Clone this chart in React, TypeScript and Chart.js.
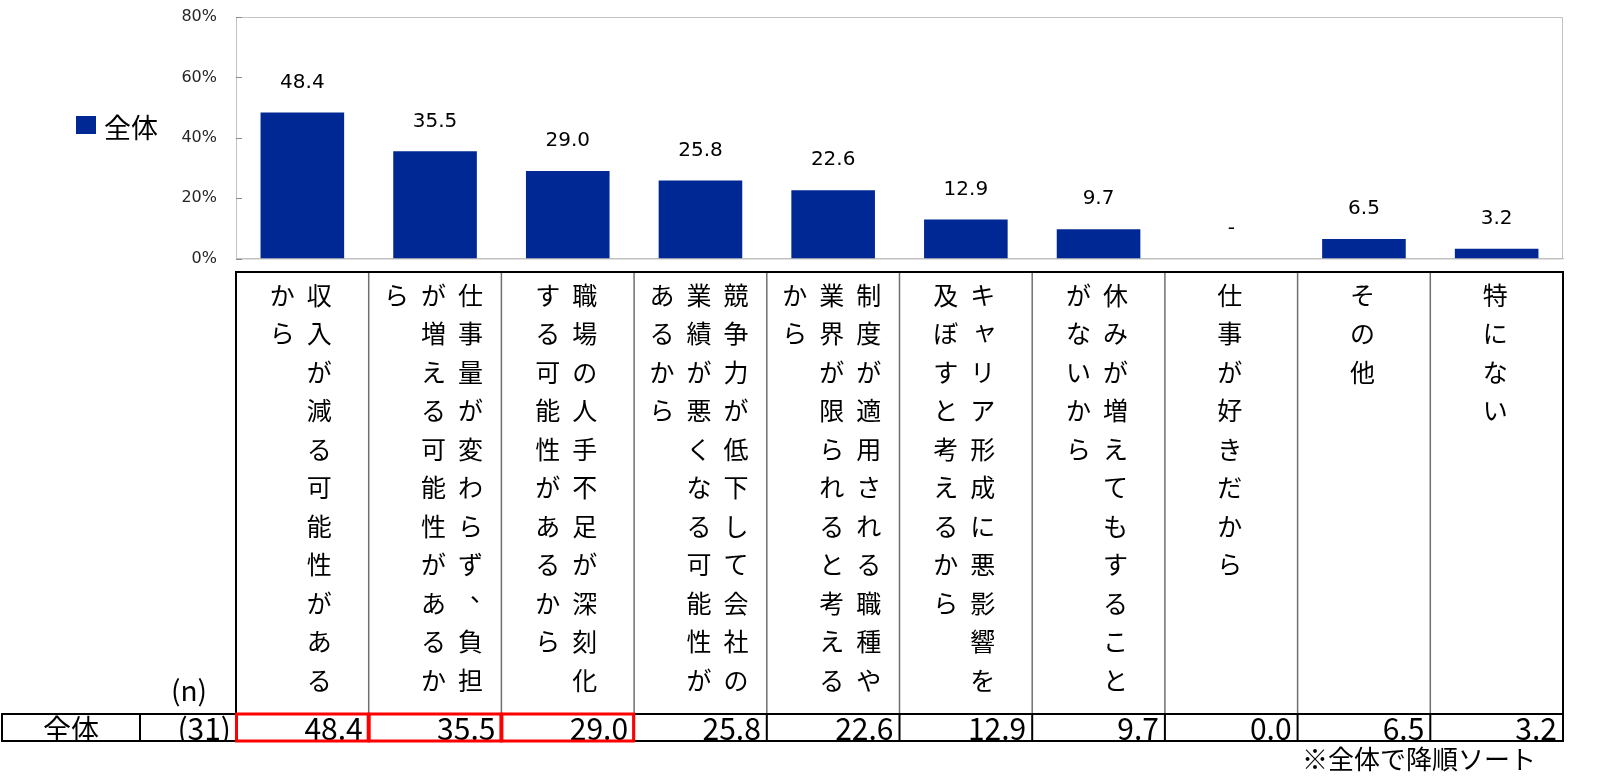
import { useEffect, useRef } from "react"
import { Chart, registerables } from "chart.js"

Chart.register(...registerables)

// survey answers, already sorted by the total (descending)
const categories = [
  "収入が減る可能性があるから",
  "仕事量が変わらず、負担が増える可能性があるから",
  "職場の人手不足が深刻化する可能性があるから",
  "競争力が低下して会社の業績が悪くなる可能性があるから",
  "制度が適用される職種や業界が限られると考えるから",
  "キャリア形成に悪影響を及ぼすと考えるから",
  "休みが増えてもすることがないから",
  "仕事が好きだから",
  "その他",
  "特にない",
]
const seriesName = "全体"
const totalValues = [48.4, 35.5, 29.0, 25.8, 22.6, 12.9, 9.7, 0.0, 6.5, 3.2]
const sampleSize = 31
const highlighted = [0, 1, 2]
const yMax = 80
const yStep = 20
const footnote = "※全体で降順ソート"

const BAR = "#002894"
const JP = '"Noto Sans CJK JP", sans-serif'
const NUM = '"DejaVu Sans", Verdana, sans-serif'

// table layout (pixels)
const TABLE_TOP = 272
const ROW_TOP = 714
const ROW_BOTTOM = 741
const ROW_LEFT = 2
const NAME_RIGHT = 140
const FIRST_ROW = 295
const ROW_STEP = 38.5
const COL_STEP = 37
const CHARS_PER_COL = 11

function drawVertical(ctx: CanvasRenderingContext2D, text: string, cx: number) {
  const chars = Array.from(text)
  const cols: string[][] = []
  for (let i = 0; i < chars.length; i += CHARS_PER_COL) cols.push(chars.slice(i, i + CHARS_PER_COL))
  const n = cols.length
  cols.forEach((col, k) => {
    const x = cx + ((n - 1) / 2 - k) * COL_STEP
    col.forEach((ch, j) => {
      const y = FIRST_ROW + j * ROW_STEP
      let dx = 0
      let dy = 0
      if (ch === "、") {
        dx = 12
        dy = -12
      } else if (ch === "ャ") {
        dx = 2
        dy = -3
      }
      ctx.fillText(ch, x + dx, y + dy)
    })
  })
}

const tablePlugin = {
  id: "surveyTable",
  beforeDatasetsDraw(chart: Chart) {
    const { ctx, chartArea: a } = chart
    const y = chart.scales.y
    ctx.save()
    ctx.strokeStyle = "#C3C3C3"
    ctx.lineWidth = 1
    ctx.strokeRect(a.left + 0.5, a.top + 0.5, a.right - a.left - 1, a.bottom - a.top)
    // small tick marks inside the plot
    ctx.strokeStyle = "#8C8C8C"
    y.ticks.forEach((t) => {
      const py = Math.round(y.getPixelForValue(t.value)) + 0.5
      ctx.beginPath()
      ctx.moveTo(a.left, py)
      ctx.lineTo(a.left + 6, py)
      ctx.stroke()
    })
    ctx.restore()
  },
  afterDatasetsDraw(chart: Chart) {
    const { ctx } = chart
    const meta = chart.getDatasetMeta(0)
    ctx.save()
    ctx.font = `20px ${NUM}`
    ctx.fillStyle = "#000"
    ctx.textAlign = "center"
    ctx.textBaseline = "middle"
    meta.data.forEach((bar: any, i: number) => {
      const v = totalValues[i]
      ctx.fillText(v === 0 ? "-" : v.toFixed(1), bar.x, bar.y - 30)
    })
    ctx.restore()
  },
  afterDraw(chart: Chart) {
    const { ctx } = chart
    const x = chart.scales.x
    const w = (x.right - x.left) / categories.length
    const left = x.getPixelForValue(0) - w / 2
    const right = x.getPixelForValue(categories.length - 1) + w / 2

    ctx.save()

    // legend
    ctx.fillStyle = BAR
    ctx.fillRect(76, 116, 20, 18)
    ctx.fillStyle = "#000"
    ctx.font = `27px ${JP}`
    ctx.textAlign = "left"
    ctx.textBaseline = "middle"
    ctx.fillText(seriesName, 104, 128)

    // header texts
    ctx.font = `25px ${JP}`
    ctx.textAlign = "center"
    ctx.textBaseline = "middle"
    categories.forEach((c, i) => drawVertical(ctx, c, x.getPixelForValue(i) - 1.5))

    ctx.font = `28px ${JP}`
    ctx.fillText("(n)", 189, 690)

    // bottom row values
    ctx.textBaseline = "alphabetic"
    ctx.save()
    ctx.beginPath()
    ctx.rect(ROW_LEFT, ROW_TOP, right - ROW_LEFT, ROW_BOTTOM - ROW_TOP)
    ctx.clip()
    ctx.font = `28px ${JP}`
    ctx.textAlign = "center"
    ctx.fillText(seriesName, (ROW_LEFT + NAME_RIGHT) / 2, 740)
    ctx.font = `30px ${JP}`
    ctx.textAlign = "right"
    ctx.fillText(`(${sampleSize})`, left - 5, 740)
    totalValues.forEach((v, i) => {
      ctx.fillText(v.toFixed(1), x.getPixelForValue(i) + w / 2 - 6, 740)
    })
    ctx.restore()

    // inner header separators
    ctx.strokeStyle = "#6F6F6F"
    ctx.lineWidth = 1.5
    for (let i = 1; i < categories.length; i++) {
      const px = left + i * w
      ctx.beginPath()
      ctx.moveTo(px, TABLE_TOP)
      ctx.lineTo(px, ROW_TOP)
      ctx.stroke()
    }

    // black grid of the table
    ctx.strokeStyle = "#000"
    ctx.lineWidth = 2
    const line = (x1: number, y1: number, x2: number, y2: number) => {
      ctx.beginPath()
      ctx.moveTo(x1, y1)
      ctx.lineTo(x2, y2)
      ctx.stroke()
    }
    line(left - 1, TABLE_TOP, right + 1, TABLE_TOP)
    line(left, TABLE_TOP, left, ROW_BOTTOM)
    line(right, TABLE_TOP, right, ROW_BOTTOM)
    line(ROW_LEFT - 1, ROW_TOP, right + 1, ROW_TOP)
    line(ROW_LEFT - 1, ROW_BOTTOM, right + 1, ROW_BOTTOM)
    line(ROW_LEFT, ROW_TOP, ROW_LEFT, ROW_BOTTOM)
    line(NAME_RIGHT, ROW_TOP, NAME_RIGHT, ROW_BOTTOM)
    for (let i = 1; i < categories.length; i++) {
      line(left + i * w, ROW_TOP, left + i * w, ROW_BOTTOM)
    }

    // highlighted cells
    ctx.strokeStyle = "#FF0000"
    ctx.lineWidth = 3
    highlighted.forEach((i) => {
      ctx.strokeRect(left + i * w + 0.5, ROW_TOP, w - 1, ROW_BOTTOM - ROW_TOP)
    })

    // footnote
    ctx.fillStyle = "#000"
    ctx.font = `26px ${JP}`
    ctx.textAlign = "right"
    ctx.textBaseline = "middle"
    ctx.fillText(footnote, 1536, 759)

    ctx.restore()
  },
}

export default function App() {
  const chartRef = useRef<HTMLCanvasElement>(null)
  const chartInstance = useRef<Chart | null>(null)

  useEffect(() => {
    if (!chartRef.current) return
    if (chartInstance.current) chartInstance.current.destroy()
    const ctx = chartRef.current.getContext("2d")
    if (!ctx) return

    chartInstance.current = new Chart(ctx, {
      type: "bar",
      data: {
        labels: categories,
        datasets: [
          {
            label: seriesName,
            data: totalValues,
            backgroundColor: BAR,
            borderWidth: 0,
            barPercentage: 0.63,
            categoryPercentage: 1,
          },
        ],
      },
      options: {
        animation: false,
        responsive: true,
        maintainAspectRatio: false,
        layout: { padding: { left: 176, right: 38, top: 17, bottom: 521.5 } },
        plugins: {
          legend: { display: false },
          tooltip: { enabled: false },
        },
        scales: {
          x: {
            grid: { display: false, drawTicks: false },
            ticks: { display: false },
            border: { color: "#BDBDBD" },
            afterFit: (s: any) => {
              s.height = 0
            },
          },
          y: {
            min: 0,
            max: yMax,
            ticks: {
              stepSize: yStep,
              padding: 0,
              color: "#262626",
              font: { family: NUM, size: 16 },
              callback: (v: any) => `${v}%`,
            },
            // tick marks hidden, their length only spaces the labels from the axis
            grid: { display: false, drawTicks: true, tickLength: 19 },
            border: { color: "#8C8C8C" },
            afterFit: (s: any) => {
              s.width = 60
            },
          },
        },
      },
      plugins: [tablePlugin],
    })

    return () => {
      if (chartInstance.current) {
        chartInstance.current.destroy()
        chartInstance.current = null
      }
    }
  }, [])

  return (
    <div style={{ position: "absolute", left: 0, top: 0, width: 1601, height: 780 }}>
      <canvas ref={chartRef} />
    </div>
  )
}
